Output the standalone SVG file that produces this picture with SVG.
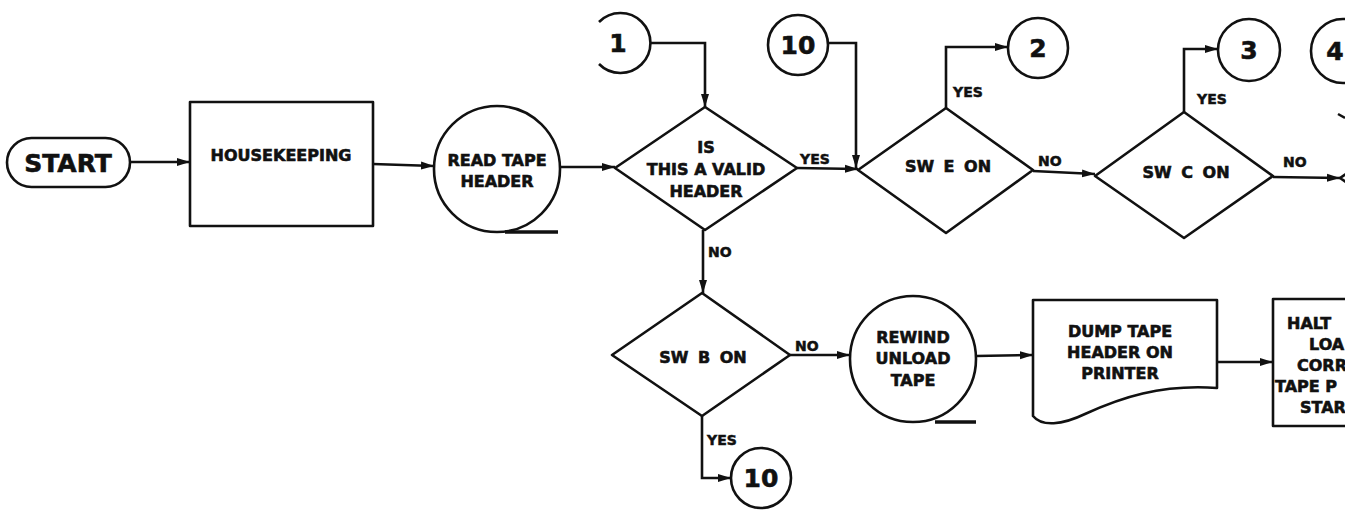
<svg xmlns="http://www.w3.org/2000/svg" width="1345" height="515" viewBox="0 0 1345 515">
<defs>
<marker id="ah" markerUnits="userSpaceOnUse" markerWidth="14" markerHeight="10" refX="13" refY="5" orient="auto">
<path d="M0,1 L13,5 L0,9 z" fill="#111"/>
</marker>
<style>
.s{fill:none;stroke:#111;stroke-width:2.6;stroke-linejoin:round}
.c{fill:none;stroke:#111;stroke-width:2.6;marker-end:url(#ah)}
.t{font-family:"DejaVu Sans","Liberation Sans",sans-serif;font-weight:bold;font-size:16px;fill:#111;stroke:#111;stroke-width:0.6;text-anchor:middle}
.l{font-family:"DejaVu Sans","Liberation Sans",sans-serif;font-weight:bold;font-size:14px;fill:#111;stroke:#111;stroke-width:0.5}
.n{font-family:"DejaVu Sans","Liberation Sans",sans-serif;font-weight:bold;font-size:25px;fill:#111;stroke:#111;stroke-width:0.6;text-anchor:middle}
</style>
</defs>
<rect width="1345" height="515" fill="#fff"/>

<g id="start">
<rect class="s" x="7" y="138" width="123" height="49" rx="24.5"/>
<text class="n" x="68" y="172" font-size="26">START</text>
</g>
<g id="housekeeping">
<rect class="s" x="190" y="102" width="183" height="124"/>
<text class="t" x="281" y="161" font-size="15.5">HOUSEKEEPING</text>
</g>
<g id="read-tape-header">
<circle class="s" cx="497" cy="169" r="63"/>
<line x1="505" y1="232" x2="558" y2="232" stroke="#111" stroke-width="3.5"/>
<text class="t" x="497" y="166">READ TAPE</text>
<text class="t" x="497" y="187">HEADER</text>
</g>
<g id="valid-header">
<polygon class="s" points="615,168 705,107 797,168 705,230"/>
<text class="t" x="706" y="153">IS</text>
<text class="t" x="706" y="175">THIS A VALID</text>
<text class="t" x="706" y="197">HEADER</text>
</g>
<g id="conn-1">
<path class="s" d="M599,22 A30,30 0 1 1 599,64"/>
<text class="n" x="618" y="52">1</text>
</g>
<g id="conn-10-top">
<circle class="s" cx="798" cy="45" r="30"/>
<text class="n" x="798" y="54">10</text>
</g>
<g id="sw-e">
<polygon class="s" points="858,170 946,108 1033,170 946,233"/>
<text class="t" x="948" y="172" word-spacing="4">SW E ON</text>
</g>
<g id="conn-2">
<circle class="s" cx="1038" cy="48" r="30"/>
<text class="n" x="1038" y="57">2</text>
</g>
<g id="sw-c">
<polygon class="s" points="1095,176 1184,112 1273,176 1184,238"/>
<text class="t" x="1186" y="178" word-spacing="4">SW C ON</text>
</g>
<g id="conn-3">
<circle class="s" cx="1249" cy="50" r="31"/>
<text class="n" x="1249" y="59">3</text>
</g>
<g id="conn-4">
<circle class="s" cx="1343" cy="51" r="32"/>
<text class="n" x="1335" y="60">4</text>
</g>
<g id="next-decision">
<polygon class="s" points="1340,178 1430,116 1520,178 1430,240"/>
</g>
<g id="sw-b">
<polygon class="s" points="612,355 702,293 790,355 702,416"/>
<text class="t" x="703" y="363" word-spacing="4">SW B ON</text>
</g>
<g id="conn-10-bottom">
<circle class="s" cx="761" cy="478" r="30"/>
<text class="n" x="761" y="487">10</text>
</g>
<g id="rewind-unload">
<circle class="s" cx="913" cy="359" r="63"/>
<line x1="935" y1="422" x2="976" y2="422" stroke="#111" stroke-width="3.5"/>
<text class="t" x="913" y="343">REWIND</text>
<text class="t" x="913" y="364">UNLOAD</text>
<text class="t" x="913" y="386">TAPE</text>
</g>
<g id="dump-header">
<path class="s" d="M1033,300 H1217 V388 C1160,384 1120,398 1085,414 C1062,425 1042,427 1033,416 Z"/>
<text class="t" x="1120" y="337">DUMP TAPE</text>
<text class="t" x="1120" y="358">HEADER ON</text>
<text class="t" x="1120" y="379">PRINTER</text>
</g>
<g id="halt">
<rect class="s" x="1273" y="299" width="120" height="127"/>
<text class="t" x="1287" y="329" style="text-anchor:start">HALT</text>
<text class="t" x="1309" y="350" style="text-anchor:start">LOA</text>
<text class="t" x="1297" y="371" style="text-anchor:start">CORR</text>
<text class="t" x="1275" y="392" style="text-anchor:start">TAPE P</text>
<text class="t" x="1300" y="413" style="text-anchor:start">STAR</text>
</g>

<g id="connectors">
<line class="c" x1="130" y1="162" x2="190" y2="162"/>
<line class="c" x1="373" y1="164" x2="434" y2="166"/>
<line class="c" x1="560" y1="167" x2="615" y2="167"/>
<path class="c" d="M650,43 H705 V107"/>
<path class="c" d="M828,43 H856 V168"/>
<line class="c" x1="797" y1="168" x2="858" y2="169"/>
<path class="c" d="M946,108 V47 H1008"/>
<line class="c" x1="1033" y1="171" x2="1095" y2="174"/>
<path class="c" d="M1184,112 V49 H1218"/>
<line class="c" x1="1273" y1="177" x2="1340" y2="178"/>
<line x1="1338" y1="114" x2="1345" y2="118" stroke="#111" stroke-width="2.5"/>
<line class="c" x1="703" y1="230" x2="703" y2="293"/>
<path class="c" d="M702,416 V478 H731"/>
<line class="c" x1="790" y1="355" x2="850" y2="355"/>
<line class="c" x1="976" y1="356" x2="1033" y2="355"/>
<line class="c" x1="1217" y1="362" x2="1273" y2="362"/>
<text class="l" x="800" y="164">YES</text>
<text class="l" x="953" y="97">YES</text>
<text class="l" x="1038" y="166">NO</text>
<text class="l" x="1197" y="104">YES</text>
<text class="l" x="1283" y="167">NO</text>
<text class="l" x="708" y="257">NO</text>
<text class="l" x="795" y="351">NO</text>
<text class="l" x="707" y="445">YES</text>
</g>
</svg>
